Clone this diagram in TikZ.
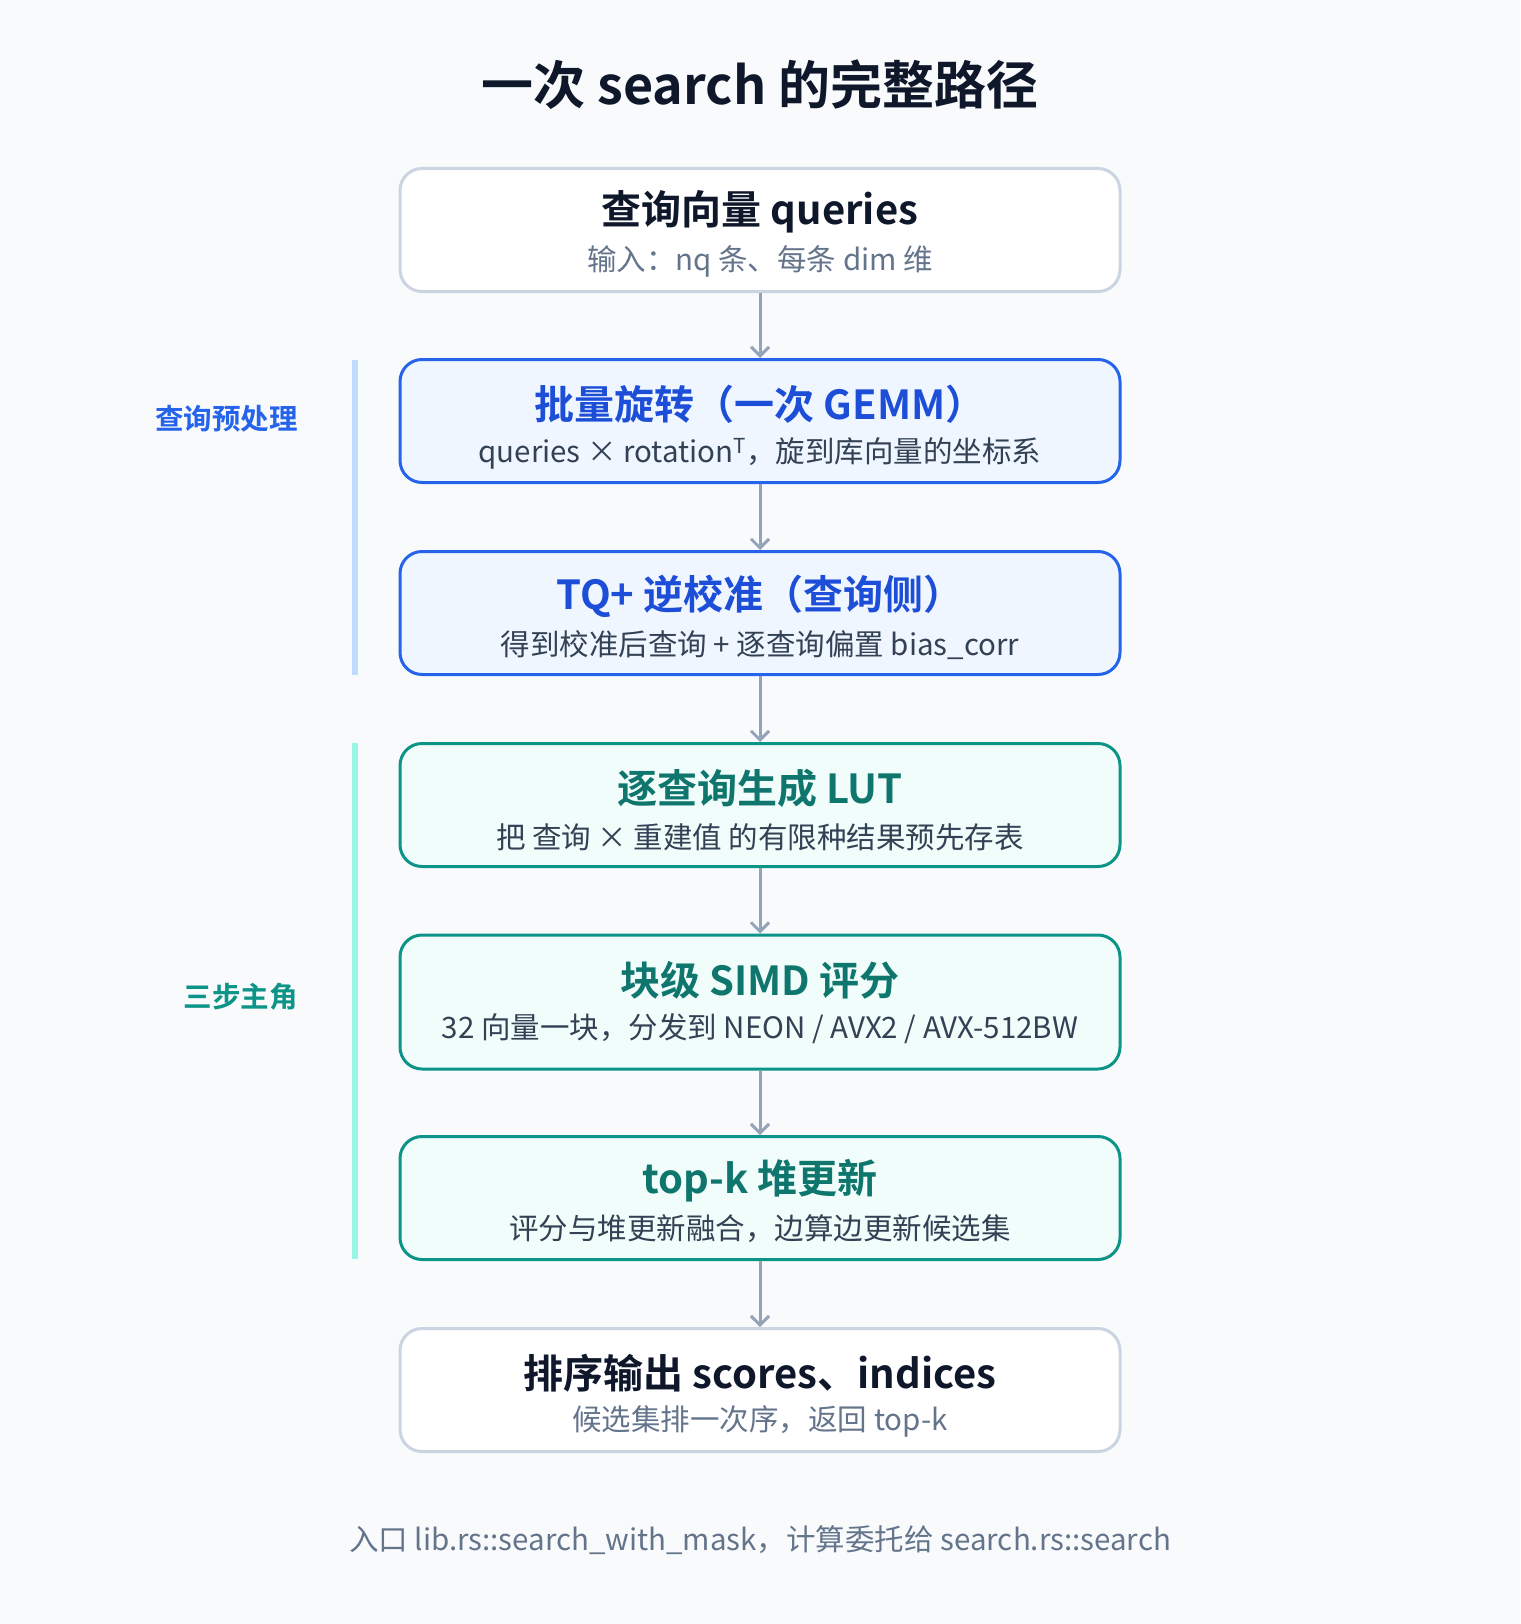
\documentclass[tikz,border=0pt]{standalone}
\usepackage{fontspec}
\setmainfont{Noto Sans CJK SC}[BoldFont={Noto Sans CJK SC Bold}]
\usetikzlibrary{arrows.meta}
\definecolor{bg}{HTML}{F8FAFC}
\definecolor{ink}{HTML}{0F172A}
\definecolor{grayline}{HTML}{CBD5E1}
\definecolor{subgray}{HTML}{64748B}
\definecolor{subdark}{HTML}{334155}
\definecolor{blueline}{HTML}{2563EB}
\definecolor{bluefill}{HTML}{EFF6FF}
\definecolor{bluetitle}{HTML}{1D4ED8}
\definecolor{greenline}{HTML}{0D9488}
\definecolor{greenfill}{HTML}{F0FDFA}
\definecolor{greentitle}{HTML}{0F766E}
\definecolor{arrowc}{HTML}{94A3B8}
\definecolor{bluebar}{HTML}{BFDBFE}
\definecolor{greenbar}{HTML}{99F6E4}
\begin{document}
\begin{tikzpicture}[x=1pt,y=-1pt,
  box/.style={rectangle, rounded corners=22pt, minimum width=720pt, minimum height=123pt, line width=3pt, inner sep=0pt},
  plainbox/.style={box, fill=white, draw=grayline},
  bluebox/.style={box, fill=bluefill, draw=blueline},
  greenbox/.style={box, fill=greenfill, draw=greenline},
  ttl/.style={font=\bfseries\fontsize{40}{48}\selectfont, anchor=center, inner sep=0pt},
  subt/.style={font=\fontsize{29.5}{35}\selectfont, anchor=center, inner sep=0pt},
  side/.style={font=\bfseries\fontsize{28.5}{34}\selectfont, anchor=east, inner sep=0pt},
  conn/.style={draw=arrowc, line width=3pt, -{Straight Barb[length=9pt,width=18pt,line width=3pt]}},
]
\fill[bg] (0,0) rectangle (1520,1624);
\useasboundingbox (0,0) rectangle (1520,1624);

\node[font=\bfseries\fontsize{52}{62}\selectfont, text=ink, inner sep=0pt] (title) at (760,85) {一次 search 的完整路径};

% side bars
\fill[bluebar] (352,360) rectangle (358,675);
\fill[greenbar] (352,743) rectangle (358,1259);
\node[side, text=blueline] (lab1) at (298,419) {查询预处理};
\node[side, text=greenline] (lab2) at (298,997) {三步主角};

% boxes
\node[plainbox] (b1) at (760,230) {};
\node[bluebox] (b2) at (760,421) {};
\node[bluebox] (b3) at (760,613) {};
\node[greenbox] (b4) at (760,805) {};
\node[greenbox, minimum height=134pt] (b5) at (760,1002) {};
\node[greenbox] (b6) at (760,1198) {};
\node[plainbox] (b7) at (760,1390) {};

% texts
\node[ttl, text=ink] (t1) at (760,212) {查询向量 queries};
\node[subt, text=subgray] (s1) at (760,261) {输入：nq 条、每条 dim 维};

\node[ttl, text=bluetitle] (t2) at (760,404) {批量旋转（一次 GEMM）};
\node[subt, text=subdark] (s2) at (760,453) {queries × rotation\textsuperscript{T}，旋到库向量的坐标系};

\node[ttl, text=bluetitle] (t3) at (760,596) {TQ+ 逆校准（查询侧）};
\node[subt, text=subdark] (s3) at (760,645) {得到校准后查询 + 逐查询偏置 bias\_corr};

\node[ttl, text=greentitle] (t4) at (760,788) {逐查询生成 LUT};
\node[subt, text=subdark] (s4) at (760,837) {把 查询 × 重建值 的有限种结果预先存表};

\node[ttl, text=greentitle] (t5) at (760,980) {块级 SIMD 评分};
\node[subt, text=subdark] (s5) at (760,1029) {32 向量一块，分发到 NEON / AVX2 / AVX-512BW};

\node[ttl, text=greentitle] (t6) at (760,1181) {top-k 堆更新};
\node[subt, text=subdark] (s6) at (760,1229) {评分与堆更新融合，边算边更新候选集};

\node[ttl, text=ink] (t7) at (760,1373) {排序输出 scores、indices};
\node[subt, text=subgray] (s7) at (760,1421) {候选集排一次序，返回 top-k};

\node[subt, text=subgray] (foot) at (760,1540) {入口 lib.rs::search\_with\_mask，计算委托给 search.rs::search};

% connectors
\draw[conn] (b1.south) -- (b2.north);
\draw[conn] (b2.south) -- (b3.north);
\draw[conn] (b3.south) -- (b4.north);
\draw[conn] (b4.south) -- (b5.north);
\draw[conn] (b5.south) -- (b6.north);
\draw[conn] (b6.south) -- (b7.north);
\end{tikzpicture}
\end{document}
